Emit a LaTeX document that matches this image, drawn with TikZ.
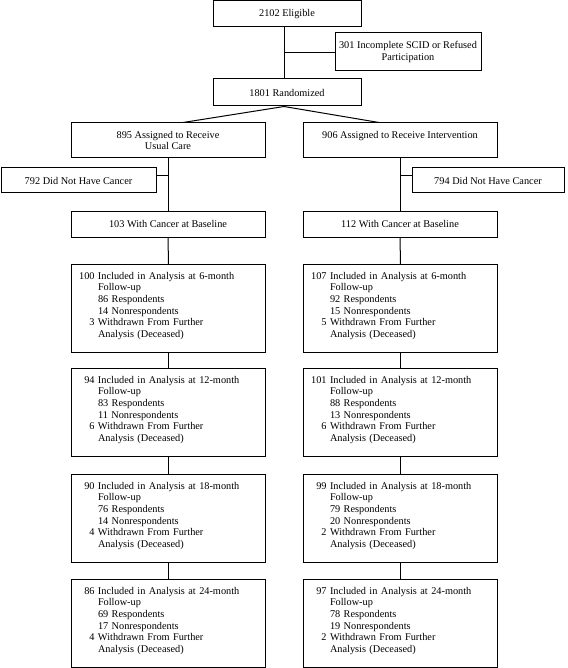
\documentclass[tikz,border=0pt]{standalone}
\usepackage{fontspec}
\setmainfont{Liberation Serif}
\hbadness=10000 \hfuzz=50pt
\newcommand\fuText[5]{\leavevmode\llap{#1 }\mbox{Included in Analysis at #2-month}\\Follow-up\\#3 Respondents\\#4 Nonrespondents\\\leavevmode\llap{#5 }Withdrawn From Further\\Analysis (Deceased)}
\begin{document}
\begin{tikzpicture}[x=1pt,y=-1pt,
  font=\fontsize{10.3}{11.7}\selectfont,
  box/.style={draw, line width=1pt, inner sep=0pt, align=center},
  fup/.style={draw, line width=1pt, anchor=north west, inner xsep=26.5pt, inner ysep=0pt,
    text width=141pt, align=left, text height=14.5pt, text depth=73pt},
  conn/.style={line width=1pt}]
\useasboundingbox (0,0) rectangle (567,668);

\node[box, minimum width=148pt, minimum height=26pt] (elig) at (287,14) {2102 Eligible};
\node[box, minimum width=146pt, minimum height=38pt] (excl) at (408,52) {301 Incomplete SCID or Refused\\Participation};
\node[box, minimum width=148pt, minimum height=27pt] (rand) at (287,92.5) {1801 Randomized};
\node[box, minimum width=194pt, minimum height=35pt] (uc) at (168,140.5) {895 Assigned to Receive\\Usual Care};
\node[box, minimum width=194pt, minimum height=35pt] (int) at (400,140.5) {906 Assigned to Receive Intervention\\\phantom{Usual Care}};
\node[box, minimum width=155pt, minimum height=25pt] (nc1) at (78.5,180.5) {792 Did Not Have Cancer};
\node[box, minimum width=152pt, minimum height=25pt] (nc2) at (488,180.5) {794 Did Not Have Cancer};
\node[box, minimum width=194pt, minimum height=26pt] (bl1) at (168,224) {103 With Cancer at Baseline};
\node[box, minimum width=194pt, minimum height=26pt] (bl2) at (400,224) {112 With Cancer at Baseline};

\node[fup] (f1L) at (71,264) {\fuText{100}{6}{86}{14}{3}};
\node[fup] (f2L) at (71,368) {\fuText{94}{12}{83}{11}{6}};
\node[fup] (f3L) at (71,474) {\fuText{90}{18}{76}{14}{4}};
\node[fup] (f4L) at (71,579) {\fuText{86}{24}{69}{17}{4}};
\node[fup] (f1R) at (303,264) {\fuText{107}{6}{92}{15}{5}};
\node[fup] (f2R) at (303,368) {\fuText{101}{12}{88}{13}{6}};
\node[fup] (f3R) at (303,474) {\fuText{99}{18}{79}{20}{2}};
\node[fup] (f4R) at (303,579) {\fuText{97}{24}{78}{19}{2}};

\coordinate (j1) at (284,53);
\coordinate (j2) at (168,176);
\coordinate (j3) at (400,176);
\draw[conn] ([xshift=-3pt]elig.south) -- ([xshift=-3pt]rand.north);
\draw[conn] (j1) -- (j1 -| excl.west);
\draw[conn] ([xshift=-3pt]rand.south) -- ([xshift=15pt]uc.north);
\draw[conn] ([xshift=-3pt]rand.south) -- ([xshift=-21pt]int.north);
\draw[conn] (uc.south) -- (bl1.north);
\draw[conn] (int.south) -- (bl2.north);
\draw[conn] (j2) -- (j2 -| nc1.east);
\draw[conn] (j3) -- (j3 -| nc2.west);
\draw[conn] (bl1.south) -- (f1L.north);
\draw[conn] (f1L.south) -- (f2L.north);
\draw[conn] (f2L.south) -- (f3L.north);
\draw[conn] (f3L.south) -- (f4L.north);
\draw[conn] (bl2.south) -- (f1R.north);
\draw[conn] (f1R.south) -- (f2R.north);
\draw[conn] (f2R.south) -- (f3R.north);
\draw[conn] (f3R.south) -- (f4R.north);
\end{tikzpicture}
\end{document}
